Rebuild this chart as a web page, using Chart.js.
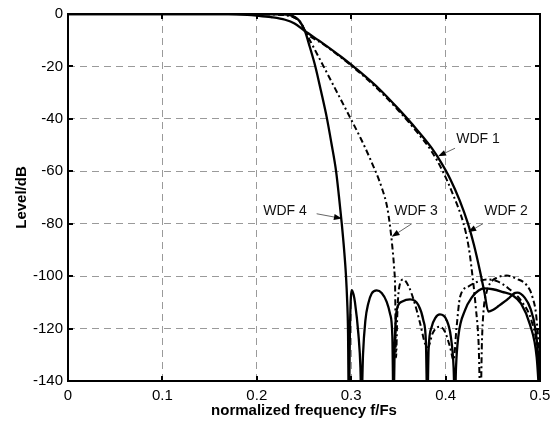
<!DOCTYPE html>
<html>
<head>
<meta charset="utf-8">
<script src="https://cdn.jsdelivr.net/npm/chart.js@4.4.1/dist/chart.umd.min.js"></script>
<style>
  html, body { margin: 0; padding: 0; background: #ffffff; }
  #c { display: block; }
</style>
</head>
<body>
<canvas id="c" width="560" height="426"></canvas>
<script>
// ---------- data ----------
const seriesNames = ['WDF 1', 'WDF 2', 'WDF 3', 'WDF 4'];

const xTicks = [0, 0.1, 0.2, 0.3, 0.4, 0.5];
const xTickLabels = ['0', '0.1', '0.2', '0.3', '0.4', '0.5'];
const yTicks = [0, -20, -40, -60, -80, -100, -120, -140];
const yTickLabels = ['0', '-20', '-40', '-60', '-80', '-100', '-120', '-140'];

const wdf1X = [0, 0.1, 0.17, 0.19, 0.2, 0.215, 0.23, 0.24, 0.251, 0.27, 0.29, 0.31, 0.33, 0.35, 0.37, 0.385, 0.395, 0.405, 0.415, 0.4237, 0.43, 0.4364, 0.441, 0.4453, 0.4505, 0.4558, 0.4664, 0.4717, 0.476, 0.484, 0.49, 0.495, 0.498, 0.5];
const wdf1Y = [0, 0, 0, -0.3, -0.6, -1.2, -2.2, -3.6, -6.5, -11.2, -16.5, -22.3, -28.7, -36.2, -44.3, -51, -56.5, -63, -71.2, -80, -88, -98, -106, -113.5, -112.8, -111.5, -108.6, -106.8, -106.3, -108.3, -112.5, -120, -131, -150];

const wdf2X = [0, 0.1, 0.2, 0.215, 0.228, 0.236, 0.242, 0.247, 0.251, 0.27, 0.29, 0.31, 0.33, 0.35, 0.37, 0.385, 0.397, 0.408, 0.419, 0.4245, 0.4285, 0.432, 0.435, 0.437, 0.4385, 0.4405, 0.4435, 0.447, 0.455, 0.4647, 0.475, 0.486, 0.492, 0.4965, 0.4993, 0.5];
const wdf2Y = [0, 0, 0, -0.1, -0.3, -0.8, -1.8, -3.6, -6.5, -11.4, -16.8, -22.7, -29.3, -36.8, -45.2, -52.3, -60, -69, -80, -89, -100, -112, -126, -150, -125, -112, -106, -102.8, -100.5, -99.8, -101, -103.5, -108, -117, -135, -150];

const wdf3X = [0, 0.1, 0.2, 0.215, 0.228, 0.236, 0.242, 0.247, 0.251, 0.26, 0.2687, 0.28, 0.2987, 0.31, 0.32, 0.3326, 0.338, 0.341, 0.3435, 0.3455, 0.3465, 0.3475, 0.3488, 0.3505, 0.3552, 0.361, 0.367, 0.373, 0.3785, 0.3815, 0.386, 0.39, 0.394, 0.399, 0.4047, 0.4085, 0.4115, 0.4153, 0.424, 0.435, 0.445, 0.455, 0.4664, 0.4806, 0.4912, 0.497, 0.5];
const wdf3Y = [0, 0, 0, -0.1, -0.3, -0.8, -1.8, -3.6, -6.5, -12.6, -18.6, -26.4, -39.4, -47.4, -55.2, -66.5, -73.5, -80.5, -88.5, -97, -104, -131, -115, -105, -101.3, -104, -110, -118, -126, -127, -122, -119.8, -119.3, -121, -127, -132, -120, -108, -104, -102, -101.3, -102, -104.6, -109.7, -117.3, -128, -145];

const wdf4X = [0, 0.1, 0.2, 0.225, 0.235, 0.24, 0.245, 0.251, 0.256, 0.262, 0.268, 0.2744, 0.279, 0.284, 0.287, 0.29, 0.2925, 0.2945, 0.2958, 0.2966, 0.2975, 0.2988, 0.3005, 0.3025, 0.304, 0.3076, 0.3098, 0.3108, 0.3125, 0.315, 0.3181, 0.3217, 0.327, 0.3323, 0.3376, 0.3411, 0.3436, 0.3448, 0.3462, 0.3482, 0.3535, 0.3623, 0.3711, 0.3764, 0.3792, 0.3806, 0.382, 0.3853, 0.389, 0.394, 0.4011, 0.4055, 0.4085, 0.4098, 0.411, 0.4135, 0.4206, 0.428, 0.435, 0.441, 0.45, 0.46, 0.4717, 0.48, 0.4894, 0.4965, 0.5];
const wdf4Y = [0, 0, 0, -0.1, -0.4, -1.1, -2.6, -6.5, -12.4, -20, -29.4, -40, -49.2, -60, -69.5, -80, -90, -100, -110, -120, -150, -118, -105.3, -107, -110, -122, -135, -150, -130, -117, -110.4, -106.6, -105.4, -106.4, -109.8, -114.3, -123, -150, -125, -113, -109.8, -108.9, -111, -116.8, -125.7, -150, -128, -119.3, -116, -114.6, -116.8, -123, -135, -150, -135, -123, -113, -108, -105.5, -104.7, -105, -106, -107.5, -110.5, -118.5, -131, -150];

// ---------- annotation placement (label text + arrow, in data units) ----------
const callouts = [
  { name: seriesNames[0], tx: 0.4343, ty: -47.6, from: [0.4100, -51.2], to: [0.3920, -54.3] },
  { name: seriesNames[1], tx: 0.4640, ty: -75.3, from: [0.4396, -80.0], to: [0.4240, -83.2] },
  { name: seriesNames[2], tx: 0.3686, ty: -75.3, from: [0.3642, -80.0], to: [0.3428, -85.0] },
  { name: seriesNames[3], tx: 0.2299, ty: -75.3, from: [0.2634, -76.2], to: [0.2902, -78.0] }
];

const FONT = '"Liberation Sans", Arial, Helvetica, sans-serif';

function pts(xs, ys) { return xs.map((x, i) => ({ x: x, y: ys[i] })); }

const solidStyle = { borderColor: '#000', borderWidth: 2.3, borderDash: [] };
const dashDotStyle = { borderColor: '#000', borderWidth: 2, borderDash: [6, 3, 2, 3] };

const datasets = [
  Object.assign({ label: seriesNames[0], data: pts(wdf1X, wdf1Y) }, solidStyle),
  Object.assign({ label: seriesNames[1], data: pts(wdf2X, wdf2Y) }, dashDotStyle),
  Object.assign({ label: seriesNames[2], data: pts(wdf3X, wdf3Y) }, dashDotStyle),
  Object.assign({ label: seriesNames[3], data: pts(wdf4X, wdf4Y) }, solidStyle)
];
datasets.forEach(d => {
  d.pointRadius = 0;
  d.fill = false;
  d.cubicInterpolationMode = 'monotone';
  d.borderCapStyle = 'butt';
  d.borderJoinStyle = 'round';
});

// frame, inward ticks and callouts
const decorPlugin = {
  id: 'decor',
  afterDatasetsDraw(chart) {
    const { ctx, chartArea: a, scales: { x, y } } = chart;
    ctx.save();
    ctx.strokeStyle = '#000';
    ctx.lineWidth = 2;
    ctx.strokeRect(a.left, a.top, a.right - a.left, a.bottom - a.top);
    const tl = 5;
    xTicks.forEach(v => {
      const px = Math.round(x.getPixelForValue(v));
      ctx.beginPath();
      ctx.moveTo(px, a.bottom); ctx.lineTo(px, a.bottom - tl);
      ctx.moveTo(px, a.top); ctx.lineTo(px, a.top + tl);
      ctx.stroke();
    });
    yTicks.forEach(v => {
      const py = Math.round(y.getPixelForValue(v));
      ctx.beginPath();
      ctx.moveTo(a.left, py); ctx.lineTo(a.left + tl, py);
      ctx.moveTo(a.right, py); ctx.lineTo(a.right - tl, py);
      ctx.stroke();
    });

    // callouts
    callouts.forEach(c => {
      const fx = x.getPixelForValue(c.from[0]), fy = y.getPixelForValue(c.from[1]);
      const txp = x.getPixelForValue(c.to[0]), typ = y.getPixelForValue(c.to[1]);
      const ang = Math.atan2(typ - fy, txp - fx);
      const hl = 8, hw = 3;
      const bx = txp - hl * Math.cos(ang), by = typ - hl * Math.sin(ang);
      ctx.strokeStyle = '#666';
      ctx.lineWidth = 1;
      ctx.beginPath();
      ctx.moveTo(fx, fy); ctx.lineTo(bx, by);
      ctx.stroke();
      ctx.fillStyle = '#000';
      ctx.beginPath();
      ctx.moveTo(txp, typ);
      ctx.lineTo(bx + hw * Math.sin(ang), by - hw * Math.cos(ang));
      ctx.lineTo(bx - hw * Math.sin(ang), by + hw * Math.cos(ang));
      ctx.closePath();
      ctx.fill();

      ctx.fillStyle = '#111';
      ctx.font = '14px ' + FONT;
      ctx.textAlign = 'center';
      ctx.textBaseline = 'middle';
      ctx.fillText(c.name, x.getPixelForValue(c.tx), y.getPixelForValue(c.ty));
    });
    ctx.restore();
  }
};

const bgPlugin = {
  id: 'bg',
  beforeDraw(chart) {
    const ctx = chart.ctx;
    ctx.save();
    ctx.fillStyle = '#fff';
    ctx.fillRect(0, 0, chart.width, chart.height);
    ctx.restore();
  }
};

new Chart(document.getElementById('c'), {
  type: 'line',
  data: { datasets: datasets },
  plugins: [bgPlugin, decorPlugin],
  options: {
    responsive: false,
    animation: false,
    layout: { padding: { left: 4, right: 20, top: 13, bottom: 6 } },
    plugins: { legend: { display: false }, tooltip: { enabled: false } },
    scales: {
      x: {
        type: 'linear', min: 0, max: 0.5,
        afterBuildTicks: s => { s.ticks = xTicks.map(v => ({ value: v })); },
        afterFit: s => { s.height = 39; },
        ticks: {
          color: '#000', font: { family: FONT, size: 15 }, padding: 6, maxRotation: 0,
          callback: (v, i) => xTickLabels[i]
        },
        grid: { color: '#9a9a9a', lineWidth: 1, drawTicks: false },
        border: { display: false, dash: [7, 5] },
        title: {
          display: true, text: 'normalized frequency f/Fs', color: '#000',
          font: { family: FONT, size: 15, weight: 'bold' }, padding: { top: 0, bottom: 0 }
        }
      },
      y: {
        type: 'linear', min: -140, max: 0,
        afterBuildTicks: s => { s.ticks = yTicks.map(v => ({ value: v })); },
        afterFit: s => { s.width = 64; },
        ticks: {
          color: '#000', font: { family: FONT, size: 15 }, padding: 5,
          callback: (v, i) => yTickLabels[i]
        },
        grid: { color: '#9a9a9a', lineWidth: 1, drawTicks: false },
        border: { display: false, dash: [7, 5] },
        title: {
          display: true, text: 'Level/dB', color: '#000',
          font: { family: FONT, size: 15, weight: 'bold' }, padding: { top: 9, bottom: 0 }
        }
      }
    }
  }
});
</script>
</body>
</html>
